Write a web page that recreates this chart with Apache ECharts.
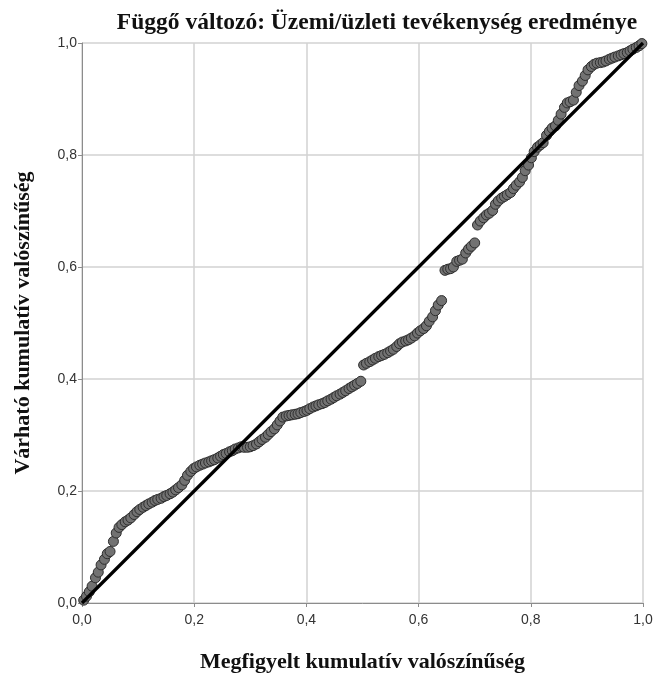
<!DOCTYPE html>
<html>
<head>
<meta charset="utf-8">
<script src="https://cdn.jsdelivr.net/npm/echarts@6/dist/echarts.min.js"></script>
<style>
	html, body { margin: 0; padding: 0; background: #fff; }
	#chart { width: 656px; height: 675px; }
</style>
</head>
<body>
<div id="chart"></div>
<script>
// megfigyelt kumulatív valószínűség (x) és várható kumulatív valószínűség (y)
const observed = [
	0.003, 0.008, 0.013, 0.018, 0.024, 0.029, 0.034, 0.040, 0.045, 0.050, 0.056, 0.061, 0.066,
	0.071, 0.077, 0.082, 0.087, 0.093, 0.098, 0.103, 0.109, 0.114, 0.119, 0.125, 0.130, 0.135,
	0.141, 0.146, 0.151, 0.157, 0.162, 0.167, 0.172, 0.178, 0.183, 0.188, 0.194, 0.199,
	0.204, 0.210, 0.215, 0.220, 0.226, 0.231, 0.236, 0.242, 0.247, 0.252, 0.257, 0.263, 0.268,
	0.273, 0.279, 0.284, 0.289, 0.295, 0.300, 0.305, 0.311, 0.316, 0.321, 0.327, 0.332, 0.337,
	0.343, 0.348, 0.353, 0.358,
	0.364, 0.369, 0.374, 0.380, 0.385, 0.390, 0.396, 0.401, 0.406, 0.412, 0.417, 0.422, 0.428,
	0.433, 0.438, 0.444, 0.449, 0.454, 0.460, 0.465, 0.470, 0.476, 0.481, 0.486, 0.491, 0.497,
	0.502, 0.507, 0.513, 0.518, 0.523, 0.529, 0.534, 0.539, 0.545, 0.550, 0.555, 0.561, 0.566,
	0.571, 0.577, 0.582, 0.587, 0.593, 0.598, 0.603, 0.609, 0.614, 0.619, 0.625, 0.630, 0.635, 0.641,
	0.647, 0.652, 0.657, 0.662, 0.668, 0.673, 0.678, 0.684, 0.689, 0.694, 0.700,
	0.705, 0.710, 0.716, 0.721, 0.726, 0.732, 0.737, 0.742, 0.748, 0.753, 0.758, 0.764, 0.769, 0.774, 0.780,
	0.785, 0.790, 0.796, 0.801, 0.806, 0.812, 0.817, 0.822, 0.828, 0.833, 0.838, 0.844, 0.849, 0.854,
	0.860, 0.865, 0.870, 0.876, 0.881, 0.886, 0.892, 0.897, 0.902, 0.908, 0.913, 0.918, 0.924, 0.929,
	0.934, 0.940, 0.945, 0.950, 0.956, 0.961, 0.966, 0.972, 0.977, 0.982, 0.988, 0.993, 0.998
];
const expected = [
	0.005, 0.012, 0.020, 0.030, 0.045, 0.055, 0.068, 0.078, 0.088, 0.092, 0.110, 0.125, 0.135,
	0.140, 0.145, 0.148, 0.152, 0.158, 0.163, 0.167, 0.171, 0.174, 0.177, 0.180, 0.183, 0.185,
	0.187, 0.190, 0.192, 0.195, 0.198, 0.202, 0.206, 0.211, 0.219, 0.228, 0.235, 0.240,
	0.243, 0.246, 0.248, 0.250, 0.252, 0.254, 0.256, 0.259, 0.262, 0.265, 0.267, 0.270, 0.272,
	0.275, 0.277, 0.279, 0.278, 0.278, 0.279, 0.281, 0.284, 0.288, 0.292, 0.296, 0.301, 0.306,
	0.311, 0.318, 0.325, 0.332,
	0.334, 0.335, 0.336, 0.337, 0.338, 0.340, 0.342, 0.344, 0.347, 0.350, 0.352, 0.354, 0.356,
	0.358, 0.361, 0.364, 0.367, 0.370, 0.373, 0.376, 0.379, 0.383, 0.386, 0.389, 0.392, 0.396,
	0.425, 0.428, 0.431, 0.434, 0.437, 0.440, 0.442, 0.444, 0.447, 0.450, 0.453, 0.458, 0.463,
	0.466, 0.468, 0.470, 0.473, 0.477, 0.482, 0.486, 0.490, 0.495, 0.503, 0.511, 0.522, 0.532, 0.540,
	0.594, 0.596, 0.597, 0.600, 0.610, 0.612, 0.614, 0.625, 0.632, 0.637, 0.643,
	0.675, 0.682, 0.688, 0.693, 0.696, 0.701, 0.712, 0.718, 0.723, 0.726, 0.729, 0.733, 0.740, 0.746, 0.752,
	0.760, 0.772, 0.782, 0.795, 0.806, 0.814, 0.818, 0.822, 0.835, 0.842, 0.848, 0.852, 0.862, 0.873,
	0.885, 0.893, 0.895, 0.898, 0.912, 0.924, 0.932, 0.942, 0.952, 0.958, 0.962, 0.964, 0.965, 0.966,
	0.968, 0.971, 0.973, 0.975, 0.977, 0.979, 0.981, 0.983, 0.986, 0.989, 0.992, 0.995, 0.999
];
const refLine = [[0, 0], [1, 1]];
const tickStep = 0.2;

const titleText = "Függő változó: Üzemi/üzleti tevékenység eredménye";
const xName = "Megfigyelt kumulatív valószínűség";
const yName = "Várható kumulatív valószínűség";

const fmt = v => v.toFixed(1).replace(".", ",");
const serif = "'Liberation Serif', 'DejaVu Serif', serif";
const sans = "'Liberation Sans', Arial, sans-serif";

const chart = echarts.init(document.getElementById("chart"));

const axisCommon = {
	type: "value",
	min: 0,
	max: 1,
	interval: tickStep,
	nameLocation: "middle",
	nameTextStyle: {
		fontFamily: serif,
		fontWeight: "bold",
		fontSize: 22,
		color: "#111"
	},
	axisLine: { show: true, lineStyle: { color: "#8c8c8c", width: 1 } },
	axisTick: { show: true, length: 4, lineStyle: { color: "#8c8c8c" } },
	axisLabel: {
		fontFamily: sans,
		fontSize: 14,
		color: "#333",
		formatter: fmt
	},
	splitLine: { show: true, lineStyle: { color: "#d2d2d2", width: 1.5 } }
};

const option = {
	animation: false,
	backgroundColor: "#fff",
	title: {
		text: titleText,
		left: 372,
		top: 6,
		textAlign: "center",
		textStyle: {
			fontFamily: serif,
			fontWeight: "bold",
			fontSize: 23.5,
			color: "#111"
		}
	},
	grid: {
		left: 82,
		right: 13,
		top: 43,
		bottom: 72,
		outerBoundsMode: "none"
	},
	xAxis: Object.assign({}, axisCommon, {
		name: xName,
		nameGap: 48,
		axisLabel: Object.assign({}, axisCommon.axisLabel, { margin: 10 })
	}),
	yAxis: Object.assign({}, axisCommon, {
		name: yName,
		nameGap: 48,
		axisLabel: Object.assign({}, axisCommon.axisLabel, { margin: 5 })
	}),
	series: [
		{
			type: "line",
			data: refLine,
			symbol: "none",
			lineStyle: { color: "#000", width: 3.2 },
			z: 3
		},
		{
			type: "scatter",
			data: observed.map((x, i) => [x, expected[i]]),
			symbolSize: 10,
			itemStyle: {
				color: "#727272",
				borderColor: "#2e2e2e",
				borderWidth: 1,
				opacity: 1
			},
			z: 2
		}
	]
};

chart.setOption(option);
</script>
</body>
</html>
